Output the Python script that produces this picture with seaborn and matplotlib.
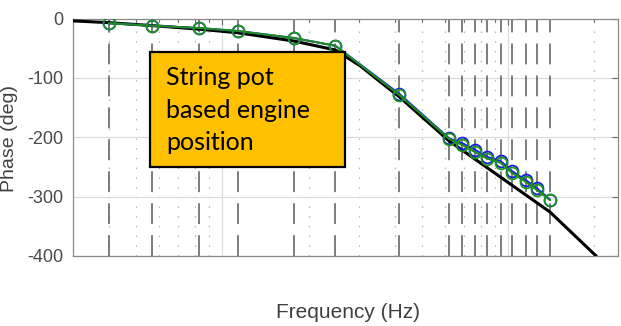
import matplotlib
matplotlib.use("Agg")
import matplotlib.pyplot as plt
import seaborn as sns
from matplotlib.patches import Rectangle
from matplotlib.ticker import LogLocator, NullFormatter

# Measured test frequencies (Hz)
freq_hz = [0.40, 0.565, 0.825, 1.13, 1.785, 2.485, 4.16, 6.22, 6.9, 7.65,
           8.45, 9.4, 10.3, 11.5, 12.6, 14.0]
# Phase response, two measurement channels (deg)
phase_meas_a = [-8, -12, -16, -21, -33, -46, -127, -202, -210, -221,
                -233, -240, -257, -272, -286, -305]
phase_meas_b = [-8, -12, -16, -21, -33, -46, -129, -203, -213, -225,
                -236, -243, -260, -275, -289, -306]
# Model phase curve
model_freq = [0.30, 0.40, 0.57, 0.83, 1.13, 1.78, 2.48, 3.04, 3.57, 4.16,
              6.2, 8.65, 14.0, 20.3]
model_phase = [-4, -7, -12, -18, -24, -38, -53, -80, -107, -132,
               -206, -255, -326, -400]
y_ticks = [-400, -300, -200, -100, 0]
box_lines = ["String pot", "based engine", "position"]

sns.set_style("white")
plt.rcParams["font.family"] = ["Liberation Sans", "DejaVu Sans"]
plt.rcParams["lines.scale_dashes"] = False
plt.rcParams["axes.unicode_minus"] = False

W, H = 621, 326
fig = plt.figure(figsize=(W / 100, H / 100), dpi=100)
ax = fig.add_axes([73 / W, 1 - 256 / H, 545 / W, 237.5 / H])

ax.set_xscale("log")
ax.set_xlim(0.3, 24.2)
ax.set_ylim(-400, 0)
ax.xaxis.set_major_locator(LogLocator(base=10))
ax.xaxis.set_minor_locator(LogLocator(base=10, subs=range(2, 10)))
ax.xaxis.set_minor_formatter(NullFormatter())
ax.set_yticks(y_ticks)

# grid: solid majors, dotted x minors
ax.grid(True, which="major", color="#dadada", lw=0.8)
ax.grid(True, which="minor", axis="x", color="#b0b0b0", lw=0.9, ls=(0, (1.0, 6)))
ax.set_axisbelow(True)

# vertical dashed markers at each test frequency
ax.vlines(freq_hz, -400, 0, colors="#5a5a5a", lw=1.1, linestyles=[(0, (15, 8))],
          zorder=1.5)

sns.lineplot(x=model_freq, y=model_phase, color="black", lw=2.2, ax=ax,
             estimator=None, sort=False, zorder=3)
sns.lineplot(x=freq_hz, y=phase_meas_a, color="#1a1aff", lw=1.4, ax=ax,
             estimator=None, sort=False, marker="o", markersize=8.5,
             markerfacecolor="none", markeredgecolor="#1a1ae6",
             markeredgewidth=1.3, zorder=4)
sns.lineplot(x=freq_hz, y=phase_meas_b, color="#1e8c1e", lw=1.5, ax=ax,
             estimator=None, sort=False, marker="o", markersize=8.5,
             markerfacecolor="none", markeredgecolor="#1e961e",
             markeredgewidth=1.3, zorder=5)

for s in ax.spines.values():
    s.set_color("#8a8a8a")
    s.set_linewidth(0.9)
ax.tick_params(which="both", direction="in", top=True, right=True,
               labelbottom=False, color="#6a6a6a")
ax.tick_params(which="major", length=4.5, width=0.8)
ax.tick_params(which="minor", length=2.5, width=0.8)
ax.tick_params(axis="y", labelsize=13, labelcolor="#4a4a4a", pad=7)
ax.set_xlabel("")
ax.set_ylabel("")

fig.text(10 / W, 1 - 138 / H, "Phase (deg)", rotation=90, ha="center",
         va="center", fontsize=14, color="#404040")
fig.text(348 / W, 1 - 312 / H, "Frequency (Hz)", ha="center", va="center",
         fontsize=15, color="#404040")

# annotation box
fig.add_artist(Rectangle((150 / W, 1 - 167 / H), 195 / W, 115 / H,
                         transform=fig.transFigure, facecolor="#FFC000",
                         edgecolor="black", lw=1.6, zorder=10))
for i, line in enumerate(box_lines):
    fig.text(166 / W, 1 - (85 + 32.5 * i) / H, line, ha="left", va="baseline",
             fontsize=18, family=["Lato", "DejaVu Sans"], color="black",
             zorder=11)

fig.savefig("out.png", dpi=100)
